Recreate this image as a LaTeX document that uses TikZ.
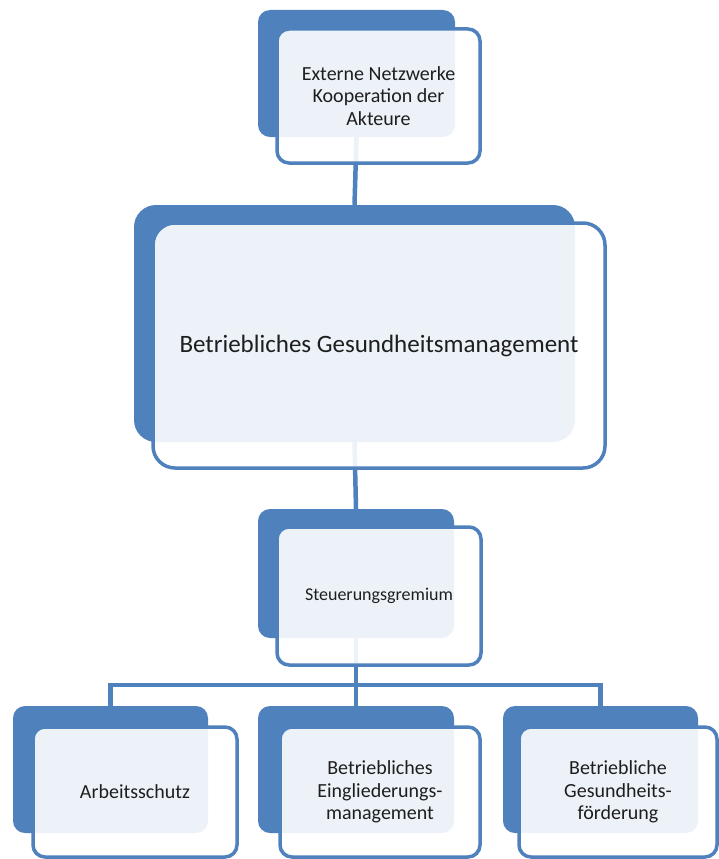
\documentclass[tikz,border=0pt]{standalone}
\usepackage{fontspec}
\setmainfont{Carlito}
\usetikzlibrary{backgrounds}
\definecolor{obl}{RGB}{79,129,189}
\definecolor{txt}{RGB}{30,30,30}
\tikzset{
  backbox/.style={rectangle, rounded corners=#1, fill=obl, draw=none, inner sep=0pt},
  backbox/.default=12pt,
  frontbox/.style={rectangle, rounded corners=#1, fill=white, fill opacity=0.9, text opacity=1,
    draw=obl, draw opacity=1, line width=3.5pt, inner sep=4pt, align=center, text=txt},
  frontbox/.default=12pt,
  conn/.style={draw=obl, line width=4.5pt},
  smalltxt/.style={font=\fontsize{20}{22.5}\selectfont},
}
\begin{document}
\begin{tikzpicture}[x=1pt,y=1pt]
\useasboundingbox (0,0) rectangle (718,-859);
% back boxes
\node[backbox, minimum width=197pt, minimum height=127pt] (b1) at (356.5,-73.5) {};
\node[backbox=22pt, minimum width=441pt, minimum height=237pt] (b2) at (354.5,-323.5) {};
\node[backbox, minimum width=196pt, minimum height=129pt] (b3) at (356,-573.5) {};
\node[backbox, minimum width=195pt, minimum height=127pt] (b4) at (110.5,-769.5) {};
\node[backbox, minimum width=196pt, minimum height=127pt] (b5) at (356,-769.5) {};
\node[backbox, minimum width=195pt, minimum height=127pt] (b6) at (600.5,-769.5) {};
% front boxes
\node[frontbox, smalltxt, minimum width=203pt, minimum height=134pt] (f1) at (378.5,-96)
  {Externe Netzwerke\\Kooperation der\\Akteure};
\node[frontbox=22pt, font=\fontsize{25}{30}\selectfont, minimum width=452pt, minimum height=245pt] (f2) at (379,-345.5)
  {Betriebliches Gesundheitsmanagement};
\node[frontbox, font=\fontsize{18}{21}\selectfont, minimum width=204pt, minimum height=138pt] (f3) at (379,-596)
  {Steuerungsgremium};
\node[frontbox, smalltxt, minimum width=204pt, minimum height=130pt] (f4) at (135,-792)
  {Arbeitsschutz};
\node[frontbox, smalltxt, minimum width=200pt, minimum height=130pt] (f5) at (380,-792)
  {Betriebliches\\Eingliederungs-\\management};
\node[frontbox, smalltxt, minimum width=198pt, minimum height=130pt] (f6) at (618,-792)
  {Betriebliche\\Gesundheits-\\förderung};
% connectors behind the boxes
\coordinate (hub) at (356,-685);
\begin{scope}[on background layer]
\draw[conn] (b1.south) -- (b2.north);
\draw[conn] (b2.south) -- (b3.north);
\draw[conn] (b3.south) -- (hub);
\draw[conn] (hub) -| (b4.north);
\draw[conn] (hub) -| (b6.north);
\draw[conn] (hub) -- (b5.north);
\end{scope}
\end{tikzpicture}
\end{document}
